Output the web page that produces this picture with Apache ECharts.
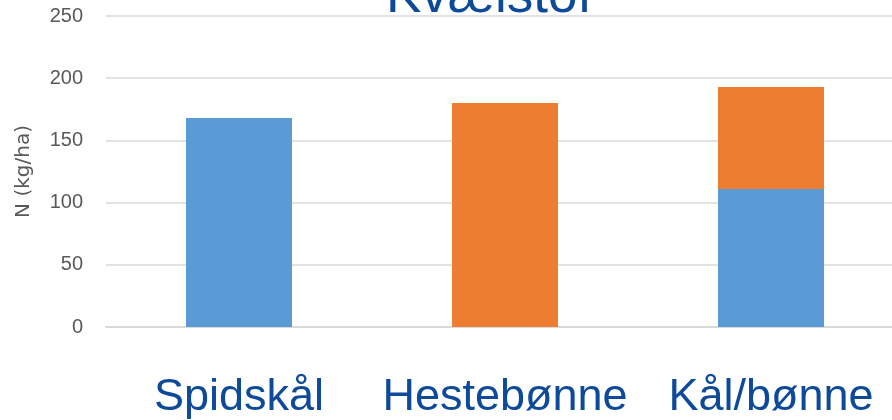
<!DOCTYPE html>
<html>
<head>
<meta charset="utf-8">
<script src="https://cdn.jsdelivr.net/npm/echarts@6/dist/echarts.min.js"></script>
<style>
  html, body { margin: 0; padding: 0; background: #fff; }
  #chart { width: 892px; height: 420px; }
</style>
</head>
<body>
<div id="chart"></div>
<script>
const categories = ['Spidskål', 'Hestebønne', 'Kål/bønne']
const blueValues = [168, '-', 111]
const orangeValues = ['-', 180, 82]
const yTicks = [0, 50, 100, 150, 200, 250]

const chart = echarts.init(document.getElementById('chart'))
const option = {
  animation: false,
  title: {
    text: 'Kvælstof',
    left: 386,
    top: -29,
    padding: 0,
    textStyle: {
      color: '#0d4a9a',
      fontSize: 53,
      fontWeight: 'normal',
      fontFamily: 'Liberation Sans'
    }
  },
  grid: { left: 106, top: 16, width: 798, height: 311, outerBoundsMode: 'none' },
  xAxis: {
    type: 'category',
    data: categories,
    axisTick: { show: false },
    axisLine: { lineStyle: { color: '#d9d9d9', width: 2 } },
    axisLabel: {
      interval: 0,
      hideOverlap: false,
      margin: 48,
      color: '#0d4a9a',
      fontSize: 45,
      fontFamily: 'Liberation Sans'
    }
  },
  yAxis: {
    type: 'value',
    min: yTicks[0],
    max: yTicks[yTicks.length - 1],
    interval: 50,
    name: 'N (kg/ha)',
    nameLocation: 'middle',
    nameGap: 72,
    nameTextStyle: { color: '#595959', fontSize: 20, fontFamily: 'DejaVu Sans' },
    axisLine: { show: false },
    axisTick: { show: false },
    axisLabel: { margin: 23, color: '#595959', fontSize: 20, fontFamily: 'Liberation Sans' },
    splitLine: { lineStyle: { color: '#d9d9d9', width: 1.5 } }
  },
  series: [
    {
      type: 'bar',
      stack: 'n',
      data: blueValues,
      barWidth: 106,
      itemStyle: { color: '#5b9bd5' }
    },
    {
      type: 'bar',
      stack: 'n',
      data: orangeValues,
      barWidth: 106,
      itemStyle: { color: '#ed7d31' }
    }
  ]
}
chart.setOption(option)
</script>
</body>
</html>
